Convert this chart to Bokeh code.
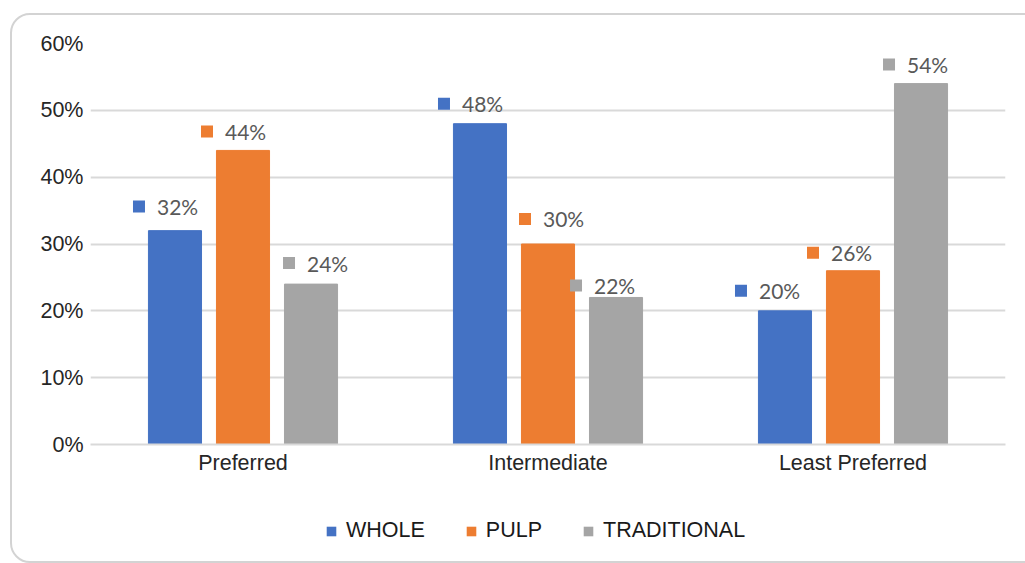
from bokeh.plotting import figure
from bokeh.layouts import column
from bokeh.models import (ColumnDataSource, FactorRange, Range1d, Legend, LegendItem,
                          FixedTicker, PrintfTickFormatter, InlineStyleSheet)
from bokeh.transform import dodge
from bokeh.core.properties import value
from bokeh.embed import file_html
from bokeh.resources import INLINE

# ---- data ----
categories = ["Preferred", "Intermediate", "Least Preferred"]
series_names = ["WHOLE", "PULP", "TRADITIONAL"]
whole = [32, 48, 20]
pulp = [44, 30, 26]
traditional = [24, 22, 54]
y_ticks = [0, 10, 20, 30, 40, 50, 60]

# ---- styling / layout ----
colors = ["#4472C4", "#ED7D31", "#A5A5A5"]
bar_shift = [-0.223, 0.0, 0.223]
bar_width = 0.174
# data-label placement: pixels from bar centre (x) and above bar top (y)
label_dx = [[-36, -36, -44], [-36, -23, -40], [-22, -40, -32]]
label_dy = [[24, 20, 20], [19, 25, 18], [21, 12, 19]]
PX_PER_CAT = 305.0
PX_PER_PCT = 6.68

AXIS_FONT = "Liberation Sans"
LABEL_FONT = "Lato"
GRID = "#d9d9d9"

# rounded card outline drawn around the whole chart
card = InlineStyleSheet(css="""
:host { position: relative; overflow: hidden; }
:host::after {
  content: ""; position: absolute; left: 10px; top: 13px;
  width: 1040px; height: 550px; box-sizing: border-box;
  border: 2px solid #d3d3d3; border-radius: 20px;
  pointer-events: none; z-index: 10;
}
""")

# ---- main bar chart ----
p = figure(width=1025, height=490, x_range=FactorRange(*categories, range_padding=0),
           y_range=Range1d(0, 60), output_backend="svg", toolbar_location=None,
           min_border_left=90, min_border_right=20, min_border_top=43, min_border_bottom=46)
p.outline_line_color = None
p.background_fill_color = "white"
p.border_fill_color = "white"

p.xgrid.grid_line_color = None
p.ygrid.grid_line_color = GRID
p.ygrid.grid_line_width = 2

p.yaxis.ticker = FixedTicker(ticks=y_ticks)
p.yaxis.formatter = PrintfTickFormatter(format="%d%%")
p.yaxis.axis_line_color = None
p.yaxis.major_tick_line_color = None
p.yaxis.major_tick_out = 0
p.yaxis.minor_tick_line_color = None
p.yaxis.major_label_standoff = 7
p.yaxis.major_label_text_font = AXIS_FONT
p.yaxis.major_label_text_font_size = "21.5px"
p.yaxis.major_label_text_color = "#262626"

p.xaxis.axis_line_color = GRID
p.xaxis.axis_line_width = 2
p.xaxis.major_tick_line_color = None
p.xaxis.major_tick_out = 0
p.xaxis.minor_tick_line_color = None
p.xaxis.major_label_standoff = 6
p.xaxis.major_label_text_font = AXIS_FONT
p.xaxis.major_label_text_font_size = "21.5px"
p.xaxis.major_label_text_color = "#262626"

for i, vals in enumerate([whole, pulp, traditional]):
    src = ColumnDataSource(dict(cat=categories, val=vals))
    p.vbar(x=dodge("cat", bar_shift[i], range=p.x_range), top="val", width=bar_width,
           source=src, fill_color=colors[i], line_color=colors[i], line_width=1)

    lx = [(c, bar_shift[i] + dx / PX_PER_CAT) for c, dx in zip(categories, label_dx[i])]
    ly = [v + dy / PX_PER_PCT for v, dy in zip(vals, label_dy[i])]
    lab = ColumnDataSource(dict(x=lx, y=ly, text=[f"{v}%" for v in vals]))
    p.scatter(x="x", y="y", source=lab, marker="square", size=12,
              fill_color=colors[i], line_color=None)
    p.text(x="x", y="y", text="text", source=lab, x_offset=18, text_baseline="middle",
           text_align="left", text_font=value(LABEL_FONT), text_font_size="21px",
           text_color="#595959")

# ---- legend strip underneath (frame aligned with the chart above) ----
leg = figure(width=1025, height=73, x_range=Range1d(0, 1), y_range=Range1d(0, 1),
             x_axis_type=None, y_axis_type=None, output_backend="svg",
             toolbar_location=None, min_border=0)
leg.outline_line_color = None
leg.grid.grid_line_color = None
leg.border_fill_color = "white"

items = []
for i, name in enumerate(series_names):
    # zero-height swatch bars: nothing drawn in the strip, only their legend entries
    swatch = leg.vbar(x=[0.5], top=[0], bottom=[0], width=0.1,
                      fill_color=colors[i], line_color=None)
    items.append(LegendItem(label=name, renderers=[swatch]))

legend = Legend(items=items, orientation="horizontal", location=(235, 20),
                glyph_width=12, glyph_height=12, label_standoff=9, spacing=40,
                padding=0, margin=0, border_line_color=None, background_fill_alpha=0,
                label_text_font=AXIS_FONT, label_text_font_size="21.5px",
                label_text_color="#1a1a1a")
leg.add_layout(legend)

page = column(p, leg, spacing=0, stylesheets=[card])

open("out.html", "w").write(file_html(page, INLINE))
